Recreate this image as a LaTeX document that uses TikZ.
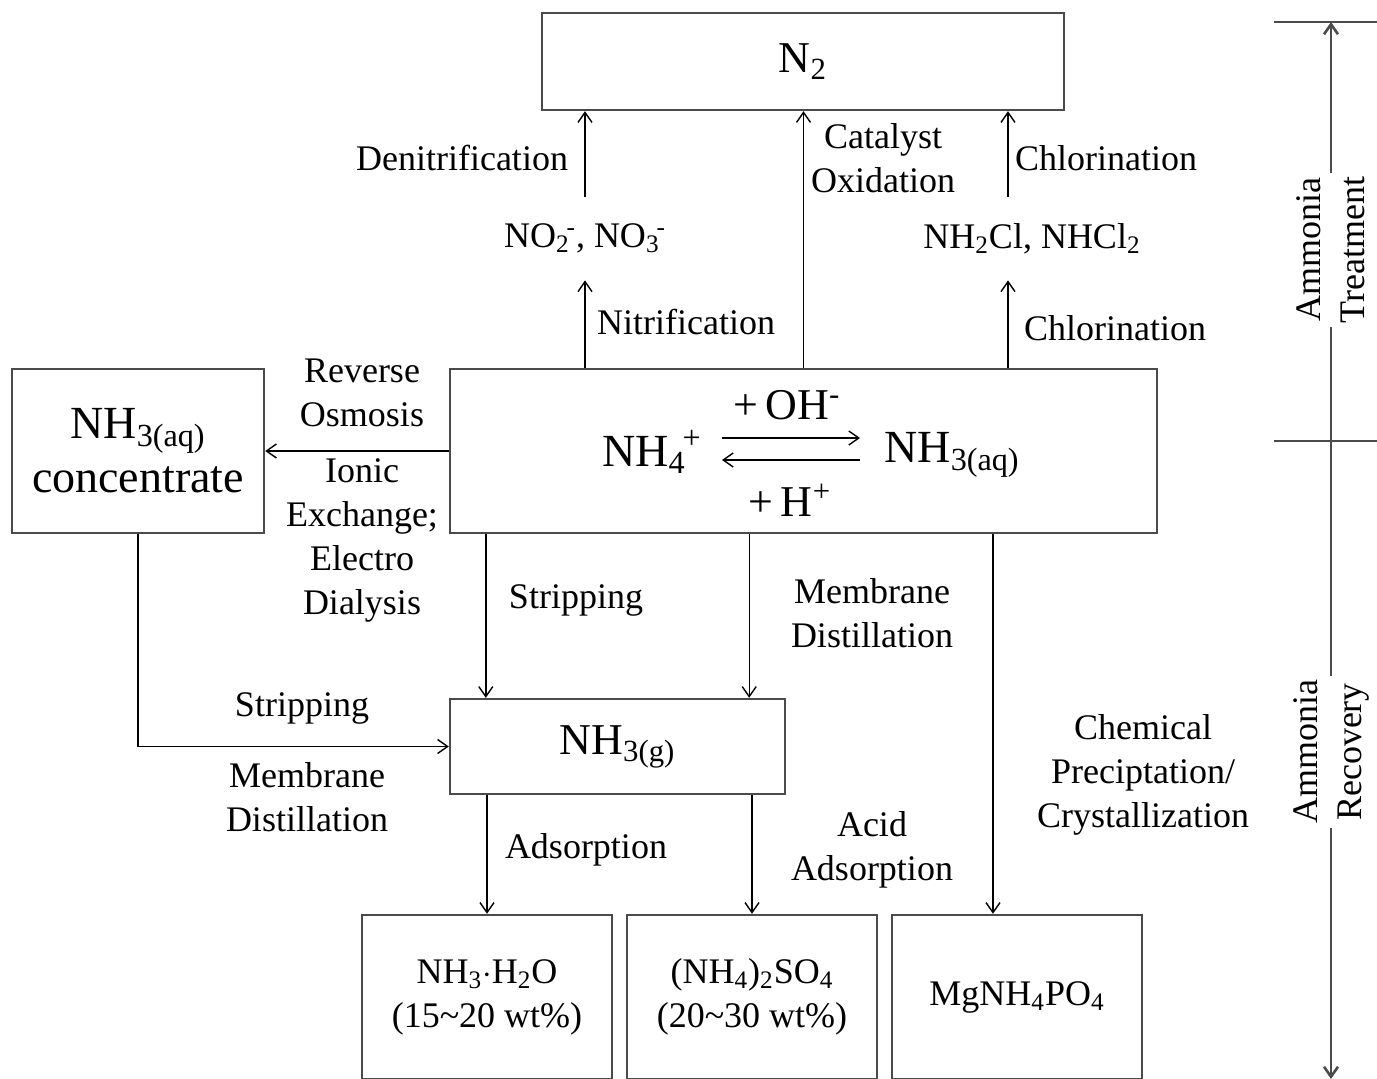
\documentclass[tikz,border=0pt]{standalone}
\usepackage{fontspec}
\setmainfont{Liberation Serif}
\usetikzlibrary{arrows.meta, positioning, calc}
\definecolor{boxgray}{RGB}{75,75,75}
\newcommand{\subsup}[2]{\textsubscript{#1}\kern-1.5pt\textsuperscript{#2}}

\begin{document}
\begin{tikzpicture}[
    x=0.5pt, y=-0.5pt,
    box/.style={
      draw=boxgray, line width=1.2pt, inner sep=0pt,
      align=center, font=\fontsize{18}{22}\selectfont
    },
    lbl/.style={font=\fontsize{18}{22}\selectfont, align=center, inner sep=1pt},
    chem/.style={font=\fontsize{18}{22}\selectfont, inner sep=0pt},
    big/.style={font=\fontsize{23}{27}\selectfont, inner sep=0pt},
    flow/.style={-{Straight Barb[length=5pt, width=7pt]}, line width=0.7pt},
    axisline/.style={line width=1.3pt, draw=boxgray}
  ]
    \useasboundingbox (0,0) rectangle (1377,1079);

    % Boxes
    \node[box, minimum width=261pt, minimum height=48.5pt, font=\fontsize{22}{26}\selectfont]
      (ntwo) at (803,61.5) {N\textsubscript{2}};
    \node[box, minimum width=353.5pt, minimum height=82pt] (eq) at (803.5,451) {};
    \node[box, minimum width=126pt, minimum height=82pt, font=\fontsize{23}{27}\selectfont]
      (conc) at (138,451) {NH\textsubscript{3(aq)}\\concentrate};
    \node[box, minimum width=167.5pt, minimum height=47.5pt, font=\fontsize{22}{26}\selectfont]
      (gas) at (617.5,746.5) {NH\textsubscript{3(g)}};
    \node[box, minimum width=125pt, minimum height=82pt] (prodA) at (487,997)
      {NH\textsubscript{3}$\cdot$H\textsubscript{2}O\\(15\textasciitilde20 wt\%)};
    \node[box, minimum width=125pt, minimum height=82pt] (prodB) at (752,997)
      {(NH\textsubscript{4})\textsubscript{2}SO\textsubscript{4}\\(20\textasciitilde30 wt\%)};
    \node[box, minimum width=125pt, minimum height=82pt] (prodC) at (1017,997)
      {MgNH\textsubscript{4}PO\textsubscript{4}};

    % Equilibrium inside the main box
    \node[big] (nhfour) at (652,452) {NH\subsup{4}{+}};
    \node[big] (nhthree) at (952,455) {NH\textsubscript{3(aq)}};
    \coordinate (eqL) at (722,449);
    \coordinate (eqR) at (860,449);
    \draw[flow] ([yshift=5.5pt]eqL) -- ([yshift=5.5pt]eqR);
    \draw[flow] ([yshift=-5.5pt]eqR) -- ([yshift=-5.5pt]eqL);
    \node[big, font=\fontsize{22}{26}\selectfont] (oh) at (787,405) {+\,OH\textsuperscript{-}};
    \node[big, font=\fontsize{22}{26}\selectfont] (hplus) at (790,500) {+\,H\textsuperscript{+}};

    % Intermediates
    \node[chem, minimum height=41.5pt] (nox) at (585,238.5)
      {NO\subsup{2}{-}, NO\subsup{3}{-}};
    \node[chem, minimum height=41.5pt] (chl) at (1032,238.5)
      {NH\textsubscript{2}Cl, NHCl\textsubscript{2}};

    % Treatment routes
    \draw[flow] (nox.north) -- (nox.north |- ntwo.south);
    \draw[flow] (eq.north) -- (eq.north |- ntwo.south);
    \draw[flow] ([xshift=-12pt]chl.north) -- ([xshift=-12pt]chl.north |- ntwo.south);
    \draw[flow] (nox.south |- eq.north) -- (nox.south);
    \draw[flow] ([xshift=-12pt]chl.south |- eq.north) -- ([xshift=-12pt]chl.south);

    \node[lbl] (denit) at (462,158) {Denitrification};
    \node[lbl] (catox) at (883,158) {Catalyst\\Oxidation};
    \node[lbl] (chlorA) at (1106,158) {Chlorination};
    \node[lbl] (nitri) at (686,322) {Nitrification};
    \node[lbl] (chlorB) at (1115,328) {Chlorination};

    % Recovery routes
    \draw[flow] (eq.west) -- (conc.east);
    \draw[flow] ([xshift=18.5pt]gas.north west |- eq.south) -- ([xshift=18.5pt]gas.north west);
    \draw[flow] ([xshift=-18.5pt]gas.north east |- eq.south) -- ([xshift=-18.5pt]gas.north east);
    \draw[flow] (conc.south) -- (conc.south |- gas.west) -- (gas.west);
    \draw[flow] (prodA.north |- gas.south) -- (prodA.north);
    \draw[flow] (prodB.north |- gas.south) -- (prodB.north);
    \draw[flow] ([xshift=-12pt]prodC.north |- eq.south) -- ([xshift=-12pt]prodC.north);

    \node[lbl] (ro) at (362,393) {Reverse\\Osmosis};
    \node[lbl] (ionex) at (362,540) {Ionic\\Exchange;\\Electro\\Dialysis};
    \node[lbl] (stripA) at (576,600) {Stripping};
    \node[lbl] (memA) at (872,613) {Membrane\\Distillation};
    \node[lbl] (stripB) at (302,708) {Stripping};
    \node[lbl] (memB) at (307,797) {Membrane\\Distillation};
    \node[lbl] (precip) at (1143,775) {Chemical\\Preciptation/\\Crystallization};
    \node[lbl] (adsA) at (586,850) {Adsorption};
    \node[lbl] (adsB) at (872,850) {Acid\\Adsorption};

    % Side axis
    \coordinate (axtop) at (1331,22);
    \coordinate (axbot) at (1331,1079);
    \draw[axisline, {Straight Barb[length=5pt, width=7pt]}-{Straight Barb[length=5pt, width=7pt]}]
      (axbot) -- (axtop);
    \draw[axisline] ([xshift=-28.5pt]axtop) -- ([xshift=23pt]axtop);
    \draw[axisline] (1274,441) -- (1377,441);
    \node[lbl, rotate=90, fill=white, inner sep=2pt] (treat) at (1331,250) {Ammonia\\Treatment};
    \node[lbl, rotate=90, fill=white, inner sep=2pt] (recov) at (1331,752) {Ammonia\\Recovery};
\end{tikzpicture}
\end{document}
